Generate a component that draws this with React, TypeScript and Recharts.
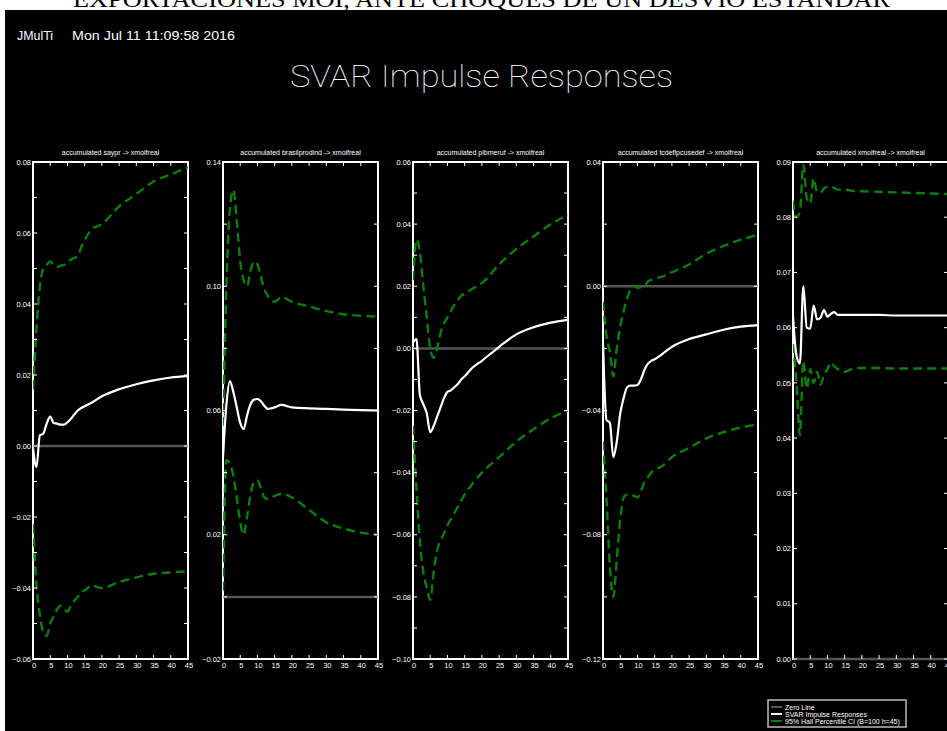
import React from 'react';
import { LineChart, Line, XAxis, YAxis, ReferenceLine, ReferenceArea } from 'recharts';

// horizons (denser where the responses move fast)
const HORIZONS = [0, 1, 2, 3, 4, 5, 6, 7, 8, 9, 10, 11, 12, 13, 14, 15, 17, 20, 25, 30, 35, 40, 45];

const SAYPR_IRF = [-0.0005, -0.0059, 0.003, 0.0035, 0.0064, 0.0083, 0.0065, 0.0063, 0.006, 0.006, 0.0067, 0.0077, 0.0089, 0.01, 0.0107, 0.0112, 0.0122, 0.014, 0.016, 0.0174, 0.0185, 0.0193, 0.0197];
const SAYPR_HI = [0.016, 0.033, 0.045, 0.05, 0.051, 0.052, 0.051, 0.0505, 0.0508, 0.051, 0.052, 0.0525, 0.053, 0.0535, 0.056, 0.058, 0.061, 0.0625, 0.0675, 0.071, 0.0745, 0.0765, 0.0785];
const SAYPR_LO = [-0.022, -0.039, -0.0476, -0.0525, -0.0535, -0.05, -0.048, -0.046, -0.045, -0.046, -0.0466, -0.045, -0.0436, -0.0425, -0.041, -0.0407, -0.0393, -0.04, -0.0383, -0.037, -0.036, -0.0356, -0.0353];

const BRAS_IRF = [0.045, 0.062, 0.0695, 0.066, 0.061, 0.056, 0.054, 0.0585, 0.062, 0.0635, 0.0637, 0.063, 0.0615, 0.0605, 0.0607, 0.061, 0.0618, 0.061, 0.0607, 0.0605, 0.0603, 0.0601, 0.06];
const BRAS_HI = [0.055, 0.1, 0.125, 0.131, 0.121, 0.108, 0.102, 0.1, 0.105, 0.108, 0.107, 0.103, 0.099, 0.097, 0.0955, 0.095, 0.0965, 0.095, 0.0935, 0.092, 0.091, 0.0905, 0.0902];
const BRAS_LO = [0.002, 0.044, 0.043, 0.039, 0.032, 0.024, 0.02, 0.026, 0.033, 0.037, 0.0375, 0.035, 0.032, 0.0315, 0.032, 0.0325, 0.0332, 0.032, 0.028, 0.024, 0.022, 0.0207, 0.02];

const PIB_IRF = [0.002, 0.003, -0.015, -0.018, -0.021, -0.027, -0.025, -0.022, -0.019, -0.016, -0.014, -0.0135, -0.0125, -0.0115, -0.01, -0.009, -0.0065, -0.004, 0.0005, 0.0045, 0.0068, 0.0083, 0.0092];
const PIB_HI = [0.022, 0.035, 0.031, 0.02, 0.01, 0.0, -0.003, 0.0, 0.005, 0.008, 0.01, 0.012, 0.014, 0.0155, 0.017, 0.0175, 0.019, 0.021, 0.027, 0.032, 0.036, 0.04, 0.043];
const PIB_LO = [-0.025, -0.045, -0.062, -0.072, -0.077, -0.081, -0.072, -0.065, -0.062, -0.0595, -0.057, -0.055, -0.053, -0.051, -0.049, -0.047, -0.044, -0.04, -0.035, -0.03, -0.026, -0.0225, -0.02];

const TCD_IRF = [-0.018, -0.043, -0.044, -0.055, -0.05, -0.041, -0.036, -0.0325, -0.032, -0.032, -0.0318, -0.03, -0.027, -0.025, -0.024, -0.0235, -0.022, -0.0195, -0.017, -0.0155, -0.014, -0.013, -0.0125];
const TCD_HI = [-0.005, -0.016, -0.021, -0.029, -0.02, -0.013, -0.008, -0.004, -0.001, 0.0, -0.0005, -0.0003, 0.0, 0.0015, 0.002, 0.0025, 0.003, 0.0045, 0.007, 0.0105, 0.013, 0.015, 0.0165];
const TCD_LO = [-0.05, -0.068, -0.09, -0.1, -0.088, -0.075, -0.068, -0.067, -0.067, -0.0675, -0.068, -0.066, -0.063, -0.0615, -0.06, -0.059, -0.058, -0.055, -0.052, -0.049, -0.047, -0.0455, -0.0445];

const XMO_IRF = [0.062, 0.055, 0.0535, 0.0675, 0.06, 0.0598, 0.064, 0.0615, 0.0618, 0.0632, 0.062, 0.0625, 0.0628, 0.0623, 0.0623, 0.0623, 0.0623, 0.0623, 0.0623, 0.0622, 0.0622, 0.0622, 0.0622];
const XMO_HI = [0.083, 0.08, 0.081, 0.0895, 0.0835, 0.0825, 0.087, 0.0845, 0.0845, 0.0852, 0.0855, 0.0855, 0.0853, 0.085, 0.085, 0.085, 0.0848, 0.0847, 0.0846, 0.0845, 0.0844, 0.0843, 0.0842];
const XMO_LO = [0.057, 0.05, 0.0405, 0.054, 0.049, 0.0525, 0.05, 0.052, 0.0497, 0.0515, 0.0525, 0.0537, 0.053, 0.0525, 0.0522, 0.052, 0.0525, 0.0527, 0.0527, 0.0526, 0.0526, 0.0526, 0.0526];

const X_TICKS = [0, 5, 10, 15, 20, 25, 30, 35, 40, 45];

const SAYPR_TICKS = [-0.06, -0.05, -0.04, -0.03, -0.02, -0.01, 0, 0.01, 0.02, 0.03, 0.04, 0.05, 0.06, 0.07, 0.08];
const SAYPR_LABELS = [-0.06, -0.04, -0.02, 0, 0.02, 0.04, 0.06, 0.08];
const BRAS_TICKS = [-0.02, 0, 0.02, 0.04, 0.06, 0.08, 0.1, 0.12, 0.14];
const BRAS_LABELS = [-0.02, 0.02, 0.06, 0.1, 0.14];
const PIB_TICKS = [-0.1, -0.09, -0.08, -0.07, -0.06, -0.05, -0.04, -0.03, -0.02, -0.01, 0, 0.01, 0.02, 0.03, 0.04, 0.05, 0.06];
const PIB_LABELS = [-0.1, -0.08, -0.06, -0.04, -0.02, 0, 0.02, 0.04, 0.06];
const TCD_TICKS = [-0.12, -0.1, -0.08, -0.06, -0.04, -0.02, 0, 0.02, 0.04];
const TCD_LABELS = [-0.12, -0.08, -0.04, 0, 0.04];
const XMO_TICKS = [0, 0.01, 0.02, 0.03, 0.04, 0.05, 0.06, 0.07, 0.08, 0.09];
const XMO_LABELS = [0, 0.01, 0.02, 0.03, 0.04, 0.05, 0.06, 0.07, 0.08, 0.09];

const GREEN = '#0b7d0b';
const GRAY = '#555555';

const PLOT_LEFT = 30;
const PLOT_W = 155;
const PLOT_TOP = 22;
const PLOT_H = 497;
const TICK_LEN = 4;
const SANS = 'Liberation Sans, Arial, sans-serif';

const fmt = (v: number) => {
  const s = Math.abs(v).toFixed(2);
  return v < -1e-9 ? '\u2212' + s : s;
};

const XTick = (props: any) => {
  const { x, payload } = props;
  const bottom = PLOT_TOP + PLOT_H;
  return (
    <g>
      <line x1={x} x2={x} y1={bottom} y2={bottom - TICK_LEN} stroke="#fff" strokeWidth={1} />
      <line x1={x} x2={x} y1={PLOT_TOP} y2={PLOT_TOP + TICK_LEN} stroke="#fff" strokeWidth={1} />
      <text x={x + 1} y={bottom + 9} textAnchor="middle" fontSize={7.5} fill="#ffffff" fontFamily={SANS}>
        {payload.value}
      </text>
    </g>
  );
};

const makeYTick = (labels: number[]) => (props: any) => {
  const { y, payload } = props;
  const v = payload.value;
  const show = labels.some((l) => Math.abs(l - v) < 1e-9);
  const right = PLOT_LEFT + PLOT_W;
  return (
    <g>
      <line x1={PLOT_LEFT} x2={PLOT_LEFT + TICK_LEN} y1={y} y2={y} stroke="#fff" strokeWidth={1} />
      <line x1={right} x2={right - TICK_LEN} y1={y} y2={y} stroke="#fff" strokeWidth={1} />
      {show && (
        <text x={PLOT_LEFT - 2} y={y} dy="0.35em" textAnchor="end" fontSize={7.5} fill="#ffffff" fontFamily={SANS}>
          {fmt(v)}
        </text>
      )}
    </g>
  );
};

interface PanelProps {
  left: number;
  irf: number[];
  lo: number[];
  hi: number[];
  domain: [number, number];
  ticks: number[];
  labels: number[];
}

const Panel: React.FC<PanelProps> = ({ left, irf, lo, hi, domain, ticks, labels }) => {
  const rows = HORIZONS.map((h, i) => ({ h, irf: irf[i], lo: lo[i], hi: hi[i] }));
  return (
    <div style={{ position: 'absolute', left: left - PLOT_LEFT, top: 162 - PLOT_TOP }}>
      <LineChart
        width={PLOT_LEFT + PLOT_W + 8}
        height={PLOT_TOP + PLOT_H + 22}
        data={rows}
        margin={{ top: PLOT_TOP, right: 8, bottom: 0, left: 0 }}
      >
        <XAxis
          dataKey="h"
          type="number"
          domain={[0, 45]}
          ticks={X_TICKS}
          interval={0}
          height={22}
          axisLine={false}
          tickLine={false}
          tick={XTick}
          allowDataOverflow
        />
        <YAxis
          type="number"
          domain={domain}
          ticks={ticks}
          interval={0}
          width={PLOT_LEFT}
          axisLine={false}
          tickLine={false}
          tick={makeYTick(labels)}
          allowDataOverflow
        />
        <ReferenceLine y={0} stroke={GRAY} strokeWidth={2.5} />
        <Line dataKey="hi" type="monotone" stroke={GREEN} strokeWidth={2.4} strokeDasharray="9 5" dot={false} isAnimationActive={false} />
        <Line dataKey="lo" type="monotone" stroke={GREEN} strokeWidth={2.4} strokeDasharray="9 5" dot={false} isAnimationActive={false} />
        <Line dataKey="irf" type="monotone" stroke="#fff" strokeWidth={2.2} dot={false} isAnimationActive={false} />
        <ReferenceArea x1={0} x2={45} y1={domain[0]} y2={domain[1]} fill="none" fillOpacity={0} stroke="#fff" strokeWidth={2} ifOverflow="visible" />
      </LineChart>
    </div>
  );
};

const PANELS = [
  { left: 33, title: 'accumulated saypr -> xmoifreal', irf: SAYPR_IRF, lo: SAYPR_LO, hi: SAYPR_HI, domain: [-0.06, 0.08] as [number, number], ticks: SAYPR_TICKS, labels: SAYPR_LABELS },
  { left: 223, title: 'accumulated brasilprodind -> xmoifreal', irf: BRAS_IRF, lo: BRAS_LO, hi: BRAS_HI, domain: [-0.02, 0.14] as [number, number], ticks: BRAS_TICKS, labels: BRAS_LABELS },
  { left: 413, title: 'accumulated pibmeruf -> xmoifreal', irf: PIB_IRF, lo: PIB_LO, hi: PIB_HI, domain: [-0.1, 0.06] as [number, number], ticks: PIB_TICKS, labels: PIB_LABELS },
  { left: 603, title: 'accumulated tcdeflpcusedef -> xmoifreal', irf: TCD_IRF, lo: TCD_LO, hi: TCD_HI, domain: [-0.12, 0.04] as [number, number], ticks: TCD_TICKS, labels: TCD_LABELS },
  { left: 793, title: 'accumulated xmoifreal -> xmoifreal', irf: XMO_IRF, lo: XMO_LO, hi: XMO_HI, domain: [0, 0.09] as [number, number], ticks: XMO_TICKS, labels: XMO_LABELS },
];

const LEGEND = [
  { label: 'Zero Line', color: GRAY },
  { label: 'SVAR Impulse Responses', color: '#fff' },
  { label: '95% Hall Percentile CI (B=100 h=45)', color: GREEN },
];

export default function App() {
  return (
    <div style={{ position: 'absolute', left: 0, top: 0, width: 947, height: 731, overflow: 'hidden', background: '#fff' }}>
      <svg width={947} height={731} style={{ position: 'absolute', left: 0, top: 0 }}>
        <text x={73} y={7} fontSize={24} fontFamily="Liberation Serif, Times New Roman, serif" fill="#000" textLength={817} lengthAdjust="spacingAndGlyphs">
          EXPORTACIONES MOI, ANTE CHOQUES DE UN DESVIO ESTANDAR
        </text>
        <rect x={5} y={10} width={942} height={721} fill="#000" />
        <text x={17} y={40} fontSize={12} fontFamily={SANS} fill="#fff" textLength={36} lengthAdjust="spacingAndGlyphs">JMulTi</text>
        <text x={72} y={40} fontSize={12} fontFamily={SANS} fill="#fff" textLength={163} lengthAdjust="spacingAndGlyphs">Mon Jul 11 11:09:58 2016</text>
        <text x={290} y={87} fontSize={31} fontFamily="Roboto, sans-serif" fontWeight={100} fill="#fff" textLength={383} lengthAdjust="spacingAndGlyphs">
          SVAR Impulse Responses
        </text>
        {PANELS.map((p) => (
          <text key={p.title} x={p.left + PLOT_W / 2} y={155} fontSize={7} fontFamily={SANS} fill="#fff" textAnchor="middle">
            {p.title}
          </text>
        ))}
        <rect x={768} y={700} width={138} height={27} fill="#000" stroke="#bbb" strokeWidth={1.5} />
        {LEGEND.map((l, i) => (
          <g key={l.label}>
            <line x1={771} x2={782} y1={707 + i * 7} y2={707 + i * 7} stroke={l.color} strokeWidth={2} />
            <text x={785} y={709.5 + i * 7} fontSize={7} fontFamily={SANS} fill="#fff">{l.label}</text>
          </g>
        ))}
      </svg>
      {PANELS.map((p) => (
        <Panel key={p.title} left={p.left} irf={p.irf} lo={p.lo} hi={p.hi} domain={p.domain} ticks={p.ticks} labels={p.labels} />
      ))}
    </div>
  );
}
